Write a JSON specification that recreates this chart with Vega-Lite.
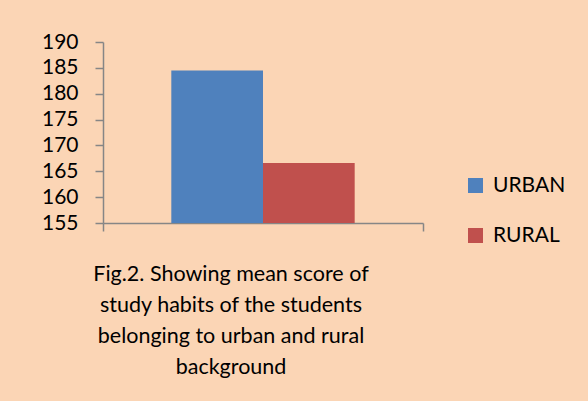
{
  "$schema": "https://vega.github.io/schema/vega-lite/v6.json",
  "autosize": {"type": "none"},
  "width": 320,
  "height": 181,
  "padding": {"left": 103, "top": 42, "right": 165, "bottom": 178},
  "background": "#FBD5B5",
  "data": {"values": [
    {"group": "Study habits", "area": "URBAN", "score": 184.5},
    {"group": "Study habits", "area": "RURAL", "score": 166.6}
  ]},
  "title": {
    "text": ["Fig.2. Showing mean score of", "study habits of the students", "belonging to urban and rural", "background"],
    "orient": "bottom",
    "anchor": "middle",
    "frame": "group",
    "dx": -32,
    "font": "Lato",
    "fontSize": 21.5,
    "fontWeight": "normal",
    "color": "#000000",
    "lineHeight": 31,
    "offset": 18
  },
  "mark": {"type": "bar"},
  "encoding": {
    "x": {
      "field": "group", "type": "nominal",
      "scale": {"paddingInner": 0, "paddingOuter": 0},
      "axis": {"title": null, "labels": false, "ticks": true, "tickBand": "extent", "tickSize": 8, "tickColor": "#868686", "domainColor": "#868686", "domainWidth": 1.5, "tickWidth": 1.5}
    },
    "xOffset": {
      "field": "area", "type": "nominal",
      "sort": ["URBAN", "RURAL"],
      "scale": {"paddingInner": 0, "paddingOuter": 0.745}
    },
    "y": {
      "field": "score", "type": "quantitative",
      "scale": {"domain": [155, 190], "zero": false},
      "axis": {"title": null, "values": [155, 160, 165, 170, 175, 180, 185, 190], "grid": false, "tickSize": 8, "tickColor": "#868686", "domainColor": "#868686", "domainWidth": 1.5, "tickWidth": 1.5, "labelFont": "Lato", "labelFontSize": 21, "labelColor": "#000000", "labelPadding": 17}
    },
    "y2": {"datum": 155},
    "color": {
      "field": "area", "type": "nominal",
      "scale": {"domain": ["URBAN", "RURAL"], "range": ["#4F81BD", "#C0504D"]},
      "legend": {"title": null, "orient": "none", "legendX": 362, "legendY": 133, "symbolType": "square", "symbolSize": 225, "symbolStrokeWidth": 0, "symbolOpacity": 1, "labelFont": "Lato", "labelFontSize": 21, "labelColor": "#000000", "labelOffset": 7, "rowPadding": 28}
    }
  },
  "config": {"view": {"stroke": null}}
}
